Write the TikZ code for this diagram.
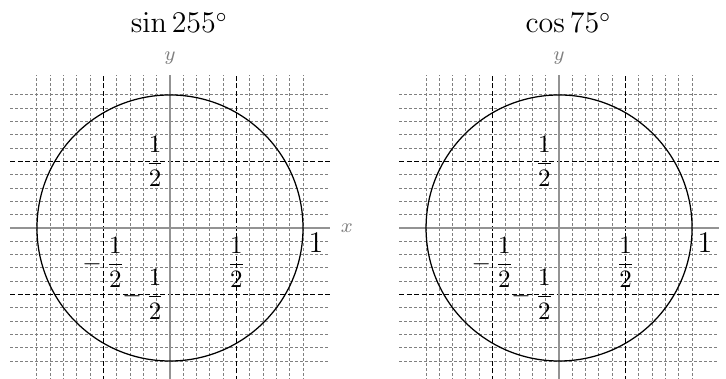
\documentclass[tikz,border=0pt,12pt]{standalone}
\usepackage{amsmath}
\usepackage{amssymb}
\usepackage{tikz}

\tikzset{
  minorgrid/.style={gray, line width=0.4pt, dash pattern=on 1.2pt off 0.8pt},
  majorgrid/.style={black, line width=0.6pt, dash pattern=on 2pt off 1pt},
  xaxisline/.style={gray!85, line width=1pt},
  yaxisline/.style={gray!85, line width=0.6pt},
  axislabel/.style={gray, font=\scriptsize},
  unitcircle/.style={black, line width=0.5pt},
  fraclabel/.style={font=\footnotesize},
}

\begin{document}
\begin{tikzpicture}[x=1.87cm, y=1.87cm]
\useasboundingbox (-1.278,-1.135) rectangle (4.18,1.714);

\def\gx{1.2}  % half length of the horizontal lines
\def\gy{1.15} % half length of the vertical lines

% --- One unit circle per angle ---
\foreach \sx/\ttl/\nm in {0/{\sin 255^\circ}/s, 2.925/{\cos 75^\circ}/c} {
  \begin{scope}[shift={(\sx,0)}]

    % Fine grid, every tenth
    \foreach \t in {-1,-0.9,-0.8,-0.7,-0.6,-0.4,-0.3,-0.2,-0.1,0.1,0.2,0.3,0.4,0.6,0.7,0.8,0.9,1} {
      \draw[minorgrid] (-\gx,\t) -- (\gx,\t);
      \draw[minorgrid] (\t,-\gy) -- (\t,\gy);
    }

    % Halves
    \foreach \t in {-0.5,0.5} {
      \draw[majorgrid] (-\gx,\t) -- (\gx,\t);
      \draw[majorgrid] (\t,-\gy) -- (\t,\gy);
    }

    % Axes
    \draw[xaxisline] (-\gx,0) -- (\gx,0) node[axislabel, right] (xl\nm) {$x$};
    \draw[yaxisline] (0,-\gy) -- (0,\gy) node[axislabel, above] (yl\nm) {$y$};

    % Circle
    \draw[unitcircle] (0,0) circle (1);

    % Tick labels
    \node[below right, inner sep=2pt] (one\nm) at (1,0) {$1$};
    \node[fraclabel, below, inner sep=3.5pt] (xp\nm) at (0.5,0) {$\dfrac{1}{2}$};
    \node[fraclabel, below, inner sep=3.5pt] (xm\nm) at (-0.5,0) {$-\,\dfrac{1}{2}$};
    \node[fraclabel, left, inner sep=2pt] (yp\nm) at (0,0.5) {$\dfrac{1}{2}$};
    \node[fraclabel, left, inner sep=2pt] (ym\nm) at (0,-0.5) {$-\,\dfrac{1}{2}$};

    % Title
    \node[anchor=base] (title\nm) at (0.07,1.466) {$\ttl$};
  \end{scope}
}

\end{tikzpicture}
\end{document}
